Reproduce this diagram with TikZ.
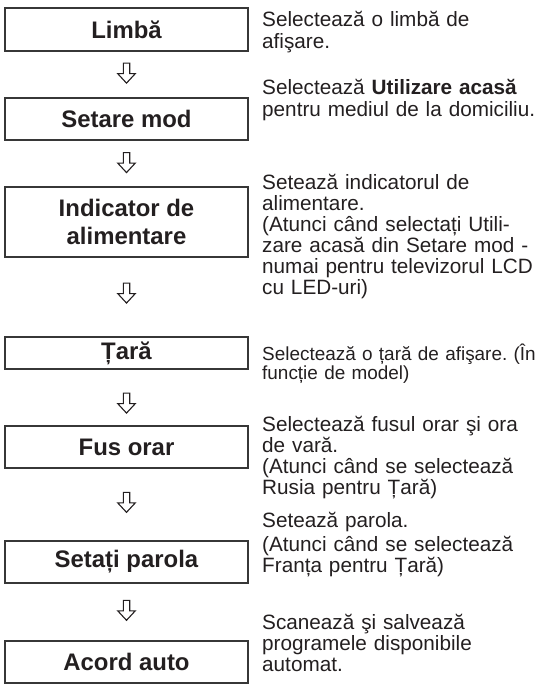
\documentclass[tikz,border=0pt]{standalone}
\usepackage{fontspec}
\setmainfont{Liberation Sans}
\usepackage{tikz}
\usetikzlibrary{positioning}
\definecolor{texteGris}{RGB}{35,31,32}
\definecolor{cadreGris}{RGB}{55,55,55}
\frenchspacing

\begin{document}
\begin{tikzpicture}[x=1bp,y=-1bp,
  s/.style={rectangle,draw=cadreGris,line width=1.1bp,minimum width=243bp,
            inner sep=0pt,align=center,text=texteGris,
            font=\fontsize{24}{27.5}\selectfont\bfseries},
  d/.style={anchor=base west,inner sep=0pt,text width=300bp,align=left,
            text=texteGris,font=\fontsize{20.8}{21.2}\selectfont},
  fleche/.pic={\draw[line width=1.1bp,draw=texteGris,fill=white]
    (-3.2,-10) -- (3.2,-10) -- (3.2,0.5) -- (8.8,0.5) -- (0,10)
    -- (-8.8,0.5) -- (-3.2,0.5) -- cycle;}]

  \useasboundingbox (0,0) rectangle (536,689);

  % etapes
  \node[s,minimum height=43bp] (s1) at (126.5,29.5) {Limbă};
  \node[s,minimum height=42bp] (s2) at (126.5,119)  {Setare mod};
  \node[s,minimum height=70bp] (s3) at (126.5,222)  {Indicator de\\alimentare};
  \node[s,minimum height=32bp] (s4) at (126.5,353)  {Țară};
  \node[s,minimum height=42bp] (s5) at (126.5,447)  {Fus orar};
  \node[s,minimum height=42bp] (s6) at (126.5,562)  {Setați parola};
  \node[s,minimum height=42bp] (s7) at (126.5,662)  {Acord auto};

  % fleches
  \path (s1.south) -- (s2.north) coordinate[pos=.47] (a1);
  \path (s2.south) -- (s3.north) coordinate[pos=.48] (a2);
  \path (s3.south) -- (s4.north) coordinate[pos=.45] (a3);
  \path (s4.south) -- (s5.north) coordinate[pos=.6]  (a4);
  \path (s5.south) -- (s6.north) coordinate[pos=.47] (a5);
  \path (s6.south) -- (s7.north) coordinate[pos=.47] (a6);
  \pic at (a1) {fleche};
  \pic at (a2) {fleche};
  \pic at (a3) {fleche};
  \pic at (a4) {fleche};
  \pic at (a5) {fleche};
  \pic at (a6) {fleche};

  % descriptions
  \node[d] (d1) at (262,27)  {Selectează o limbă de\\afişare.};
  \node[d] (d2) at (262,95)  {Selectează \textbf{Utilizare acasă}\\pentru mediul de la domiciliu.};
  \node[d] (d3) at (262,189) {Setează indicatorul de\\alimentare.\\(Atunci când selectați Utili-\\zare acasă din Setare mod -\\numai pentru televizorul LCD\\cu LED-uri)};
  \node[d,font=\fontsize{19}{19.5}\selectfont] (d4) at (262,360) {Selectează o țară de afişare. (În\\funcție de model)};
  \node[d] (d5) at (262,431) {Selectează fusul orar şi ora\\de vară.\\(Atunci când se selectează\\Rusia pentru Țară)};
  \node[d] (d6) at (262,527) {Setează parola.\\[3bp](Atunci când se selectează\\Franța pentru Țară)};
  \node[d] (d7) at (262,629) {Scanează şi salvează\\programele disponibile\\automat.};
\end{tikzpicture}
\end{document}
